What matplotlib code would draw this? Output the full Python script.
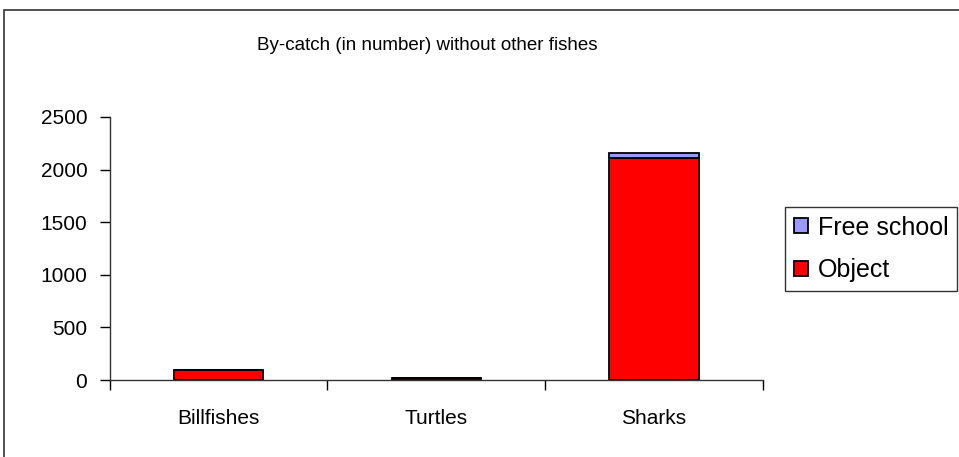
import matplotlib.pyplot as plt
from matplotlib.patches import Rectangle

plt.rcParams['font.family'] = ['Liberation Sans', 'DejaVu Sans']

categories = ['Billfishes', 'Turtles', 'Sharks']
object_vals = [95, 20, 2110]
free_school_vals = [0, 0, 50]
yticks = [0, 500, 1000, 1500, 2000, 2500]
title = 'By-catch (in number) without other fishes'

W, H = 959, 457
fig = plt.figure(figsize=(W / 100, H / 100), dpi=100)

# outer chart frame (only left and top edges are inside the picture)
fig.patches.append(Rectangle((4 / W, -0.1), 2, 1 - 10 / H + 0.1, transform=fig.transFigure,
                             fill=False, edgecolor='#333333', linewidth=1.2))

# plot area in pixel coords
x0, x1, ytop, ybot = 109.5, 763, 117, 380
ax = fig.add_axes([x0 / W, 1 - ybot / H, (x1 - x0) / W, (ybot - ytop) / H])

pos = range(len(categories))
ax.bar(pos, object_vals, width=0.41, color='#FF0000', edgecolor='black', linewidth=1.3,
       label='Object')
ax.bar(pos, free_school_vals, width=0.41, bottom=object_vals, color='#9999FF',
       edgecolor='black', linewidth=1.3, label='Free school')

ax.set_xlim(-0.5, len(categories) - 0.5)
ax.set_ylim(0, 2500)
ax.set_yticks(yticks)
ax.set_yticklabels([str(v) for v in yticks], fontsize=15)
ax.set_xticks(list(pos))
ax.set_xticklabels(categories, fontsize=15)
ax.set_xticks([-0.5, 0.5, 1.5, 2.5], minor=True)
ax.tick_params(axis='x', which='major', length=0, pad=21)
ax.tick_params(axis='x', which='minor', length=7, width=1, direction='out')
ax.tick_params(axis='y', length=7, width=1, direction='out', pad=9)
for s in ['top', 'right']:
    ax.spines[s].set_visible(False)
for s in ['left', 'bottom']:
    ax.spines[s].set_color('#333333')
    ax.spines[s].set_linewidth(1)

fig.text(427 / W, 1 - 45 / H, title, ha='center', va='center', fontsize=13.5)

handles, labels = ax.get_legend_handles_labels()
leg = fig.legend(handles[::-1], labels[::-1], loc='upper left',
                 bbox_to_anchor=(785 / W, 1 - 207 / H), fontsize=18,
                 frameon=True, fancybox=False, handlelength=0.55, handleheight=0.55,
                 handletextpad=0.4, labelspacing=0.75, borderpad=0.35, borderaxespad=0)
leg.get_frame().set_edgecolor('black')
leg.get_frame().set_linewidth(1)

fig.savefig('out.png', dpi=100)
